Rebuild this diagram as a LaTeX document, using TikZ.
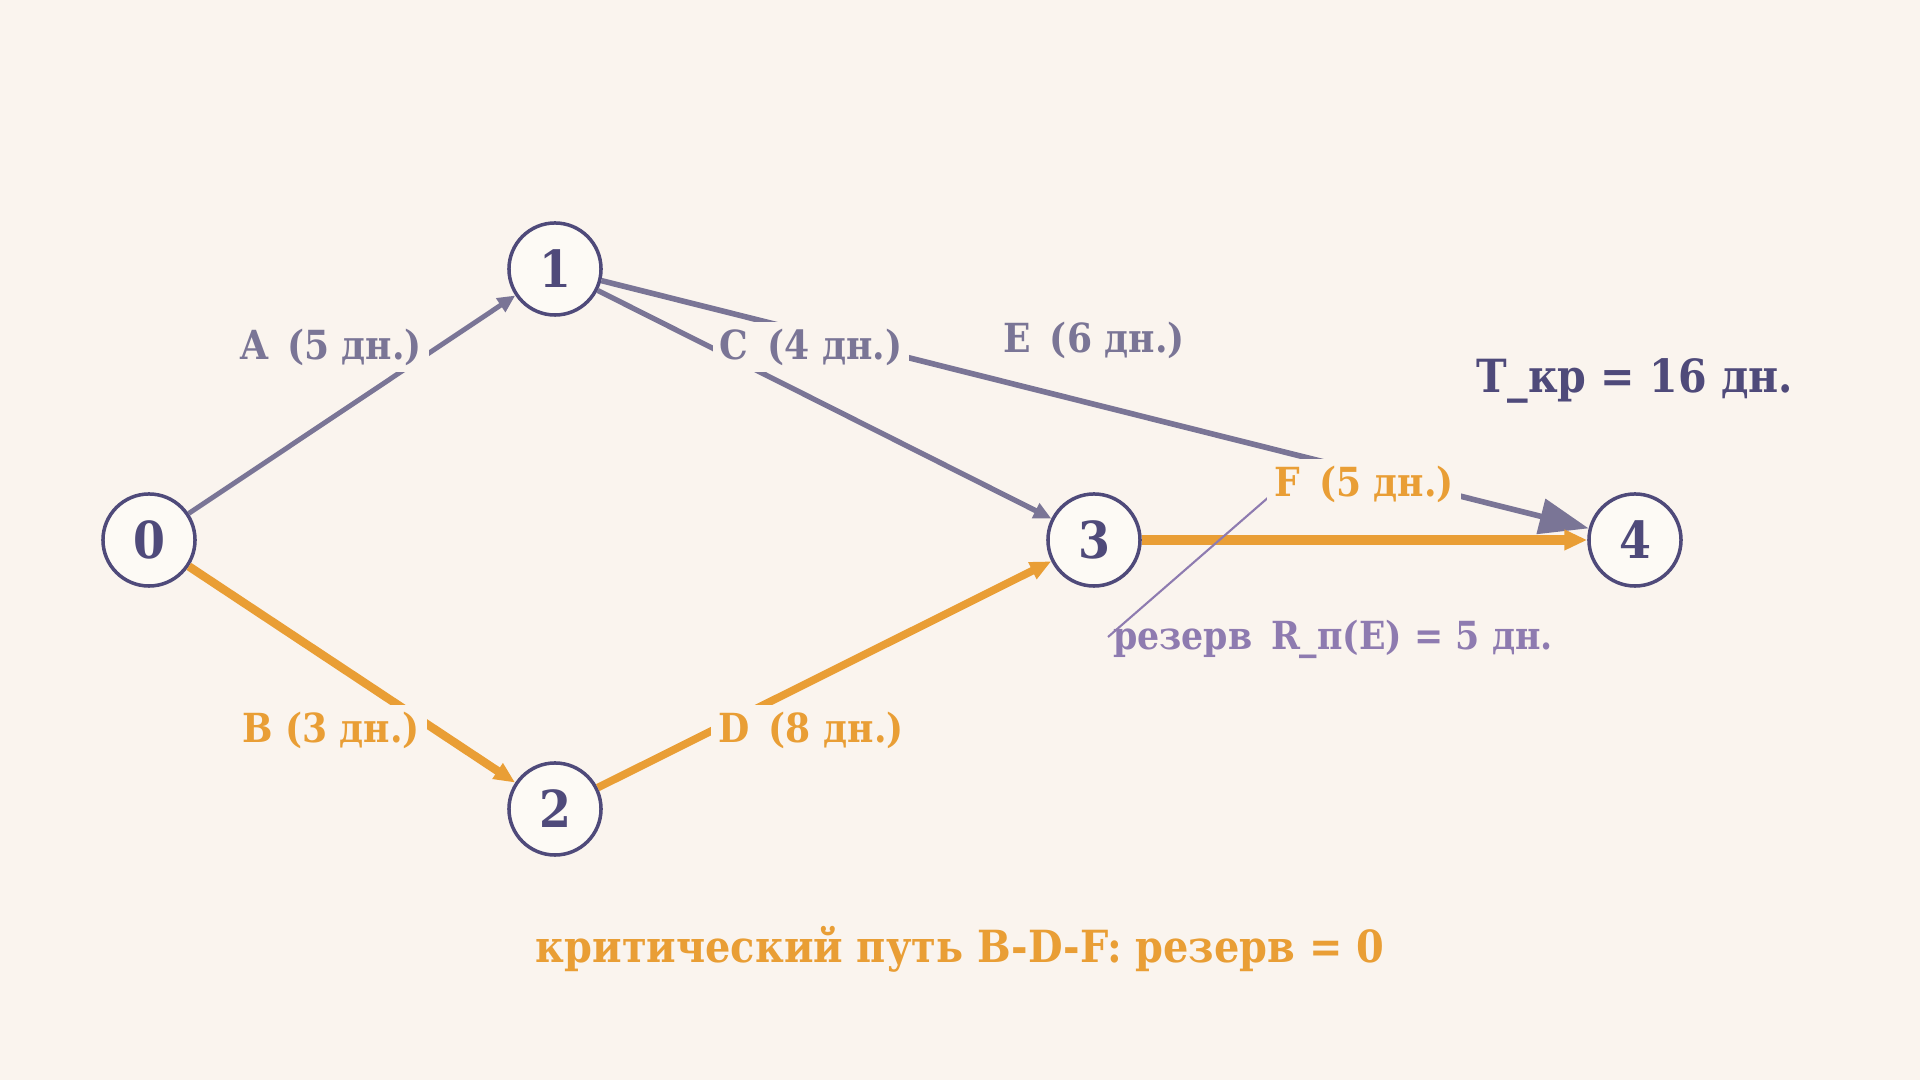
\documentclass[tikz,border=0pt]{standalone}
\usepackage{fontspec}
\setmainfont{DejaVu Serif Condensed}
\usetikzlibrary{arrows.meta}

\definecolor{bgcream}{HTML}{FAF4EE}
\definecolor{nodeink}{HTML}{4F4A7A}
\definecolor{nodefill}{HTML}{FDFAF5}
\definecolor{edgegray}{HTML}{7A7596}
\definecolor{critorange}{HTML}{E99E35}
\definecolor{slackpurple}{HTML}{8E7BB0}

\begin{document}
\begin{tikzpicture}[x=0.01cm, y=-0.01cm,
  event/.style={circle, draw=nodeink, fill=nodefill, line width=1pt,
    minimum size=0.92cm, inner sep=0pt, text=nodeink,
    font=\fontsize{14.5}{16}\selectfont\bfseries},
  job/.style={draw=edgegray, line width=1.4pt,
    -{Triangle[length=5pt, width=4.5pt]}},
  crit/.style={draw=critorange, line width=2.4pt,
    -{Triangle[length=6pt, width=5pt]}},
  tag/.style={fill=bgcream, inner sep=2pt, text=edgegray,
    font=\fontsize{11.4}{13}\selectfont\bfseries}]

\newcommand\LINEW{1.5pt}

%% background
\fill[bgcream] (0,0) rectangle (1920,1080);
\useasboundingbox (0,0) rectangle (1920,1080);

%% events
\node[event] (n0) at (149,540) {0};
\node[event] (n1) at (555,269) {1};
\node[event] (n2) at (555,809) {2};
\node[event] (n3) at (1094,540) {3};
\node[event] (n4) at (1635,540) {4};

%% jobs
\draw[job] (n0) -- (n1);
\draw[job, line width=\LINEW] (n1) -- (n3);
\draw[job, line width=1.6pt, -{Triangle[length=14pt, width=10pt]}] (n1) -- (n4);
\draw[crit] (n0) -- (n2);
\draw[crit, line width=2.2pt] (n2) -- (n3);
\draw[crit, line width=2.7pt, -{Triangle[length=6.5pt, width=5.5pt]}] (n3) -- (n4);

%% slack pointer
\coordinate (ptrA) at (1270,496);
\coordinate (ptrB) at (1108,637);
\draw[slackpurple, line width=0.6pt] (ptrA) -- (ptrB);

%% labels
\node[tag] (tA) at (331,347) {A\, (5 дн.)};
\node[tag] (tC) at (811,347) {C\, (4 дн.)};
\node[tag] (tE) at (1094,340) {E\, (6 дн.)};
\node[tag, text=critorange] (tB) at (331,730) {B (3 дн.)};
\node[tag, text=critorange] (tD) at (811,730) {D\, (8 дн.)};
\node[tag, text=critorange] (tF) at (1364,484) {F\, (5 дн.)};
\node[tag, text=slackpurple, fill=none, font=\fontsize{11}{13}\selectfont\bfseries]
  (tR) at (1333,639) {резерв\, R\_п(E) = 5 дн.};

\node[text=nodeink, font=\fontsize{13}{15}\selectfont\bfseries]
  (tkr) at (1635,381) {T\_кр = 16 дн.};
\node[text=critorange, font=\fontsize{12.6}{15}\selectfont\bfseries]
  (crit) at (960,949) {критический путь B-D-F: резерв = 0};
\end{tikzpicture}
\end{document}
